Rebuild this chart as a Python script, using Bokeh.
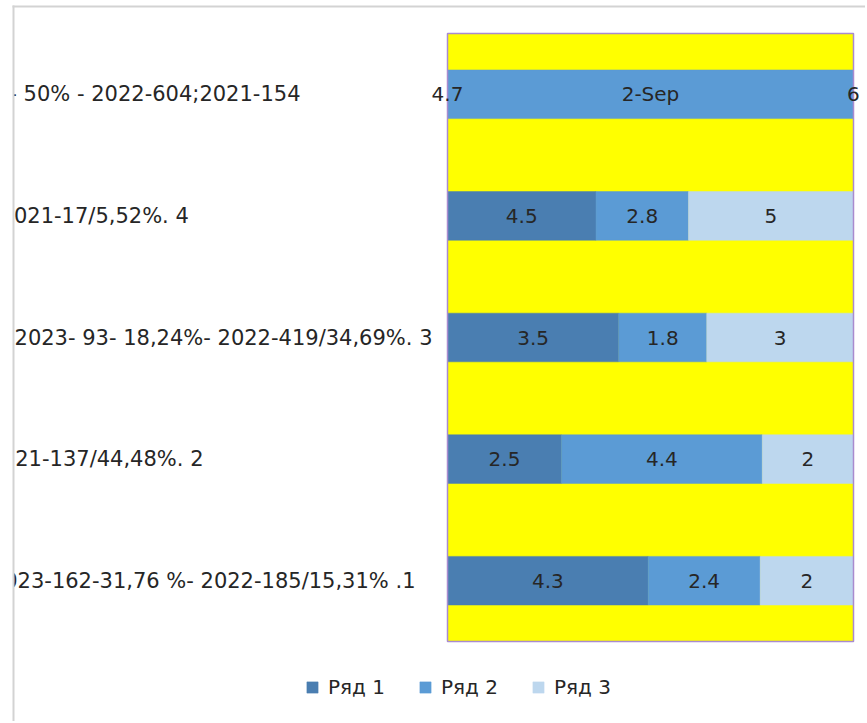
import numpy as np
from bokeh.plotting import figure
from bokeh.models import ColumnDataSource, Legend, LegendItem, Range1d
from bokeh.core.properties import value
from bokeh.embed import file_html
from bokeh.resources import INLINE

# ---- data (bottom to top) ----
categories = [1, 2, 3, 4, 5]
category_labels = [
    "023-162-31,76 %- 2022-185/15,31% .1",
    "21-137/44,48%. 2",
    "2023- 93- 18,24%- 2022-419/34,69%. 3",
    "021-17/5,52%.  4",
    "- 50% - 2022-604;2021-154",
]
series_names = ["Ряд 1", "Ряд 2", "Ряд 3"]
row1 = [4.3, 2.5, 3.5, 4.5, 4.7]
row2 = [2.4, 4.4, 1.8, 2.8, 45171]   # "2-Sep" is stored as a date serial number
row3 = [2, 2, 3, 5, 6]
label1 = ["4.3", "2.5", "3.5", "4.5", "4.7"]
label2 = ["2.4", "4.4", "1.8", "2.8", "2-Sep"]
label3 = ["2", "2", "3", "5", "6"]

# ---- layout / styles (pixels) ----
W, H = 865, 721
PL, PR, PT, PB = 447, 853, 33, 641          # plot-area box in canvas pixels
BORDER_X, BORDER_Y = 13, 6                  # chart-area border
colors = ["#4A7EB1", "#5B9BD5", "#BDD7EE"]
FONT = "DejaVu Sans"
label_right_px = [415, 203, 432, 195, 300]   # right edge of each category label

r = np.array([row1, row2, row3], dtype=float)
tot = r.sum(axis=0)
frac = r / tot
rights = np.cumsum(frac, axis=0)
lefts = rights - frac

pw = PR - PL
ph = (PB - PT) / 5.0
def px_x(x):      # canvas pixel -> data x
    return (x - PL) / pw
def px_y(y):      # canvas pixel -> data y
    return 5.5 - (y - PT) / ph

x_range = Range1d(px_x(0), px_x(W))
y_range = Range1d(px_y(H), px_y(0))

p = figure(width=W, height=H, output_backend="svg", toolbar_location=None,
           x_range=x_range, y_range=y_range, min_border=0)
p.xaxis.visible = False
p.yaxis.visible = False
p.xgrid.visible = False
p.ygrid.visible = False
p.outline_line_color = None
p.background_fill_color = "white"
p.border_fill_color = "white"

# plot area (yellow)
p.quad(left=[0], right=[1], bottom=[0.5], top=[5.5], fill_color="#FFFF00",
       line_color=None)

labels_all = [label1, label2, label3]
renderers = []
for i in range(3):
    src = ColumnDataSource(dict(y=categories, left=lefts[i], right=rights[i]))
    rr = p.hbar(y="y", left="left", right="right", height=0.4, source=src,
                fill_color=colors[i], line_color=colors[i], line_width=0.5)
    renderers.append(rr)

# plot-area outline
p.quad(left=[0], right=[1], bottom=[0.5], top=[5.5], fill_alpha=0,
       line_color="#A98BCF", line_width=1.5)

for i in range(3):
    src = ColumnDataSource(dict(y=categories, mid=(lefts[i] + rights[i]) / 2, txt=labels_all[i]))
    p.text(x="mid", y="y", text="txt", source=src, text_align="center", text_baseline="middle",
           text_font=value(FONT), text_font_size="20px", text_color="#262626")

# category labels (left of the plot area)
cat_src = ColumnDataSource(dict(y=categories, txt=category_labels,
                                off=[xr - PL for xr in label_right_px]))
p.text(x=0, y="y", text="txt", x_offset="off", source=cat_src, text_align="right",
       text_baseline="middle", text_font=value(FONT), text_font_size="21px", text_color="#262626")

# everything left of the chart-area border is cut off
p.quad(left=[px_x(-20)], right=[px_x(BORDER_X)], bottom=[px_y(H + 20)], top=[px_y(-20)],
       fill_color="white", line_color=None)
# chart-area border (left and top edges)
p.quad(left=[px_x(BORDER_X - 1)], right=[px_x(BORDER_X + 1)], bottom=[px_y(H + 20)],
       top=[px_y(BORDER_Y - 1)], fill_color="#D3D3D3", line_color=None)
p.quad(left=[px_x(BORDER_X - 1)], right=[px_x(W + 20)], bottom=[px_y(BORDER_Y + 1)],
       top=[px_y(BORDER_Y - 1)], fill_color="#D3D3D3", line_color=None)

legend = Legend(items=[LegendItem(label=n, renderers=[rr]) for n, rr in zip(series_names, renderers)],
                orientation="horizontal", location=(305, 22), padding=0, margin=0,
                spacing=33, glyph_width=14, glyph_height=14, label_standoff=9,
                label_text_font=FONT, label_text_font_size="20px", label_text_color="#262626",
                border_line_color=None, background_fill_alpha=0)
p.add_layout(legend, "center")

open("out.html", "w").write(file_html(p, INLINE))
